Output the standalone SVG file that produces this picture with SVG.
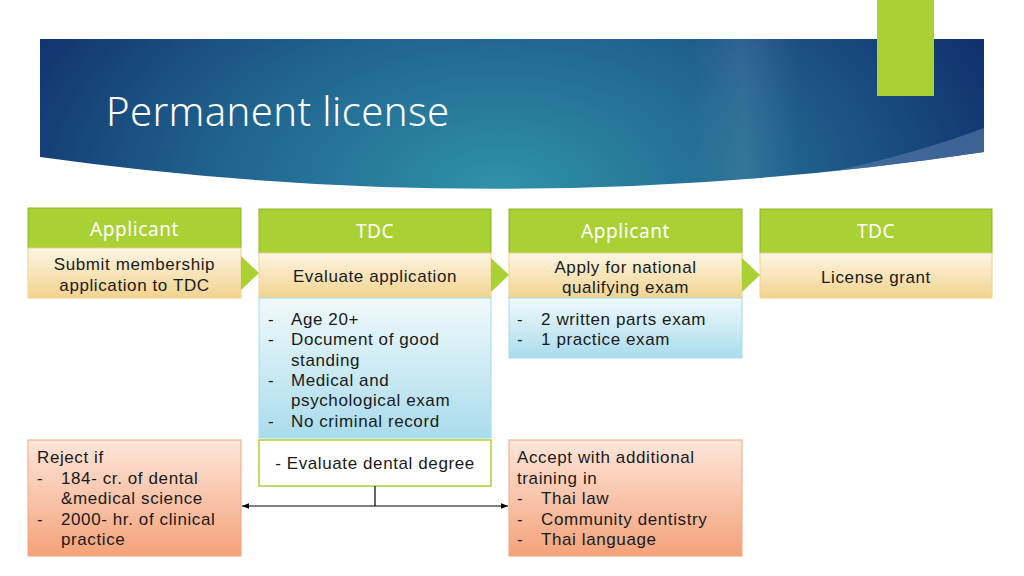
<svg xmlns="http://www.w3.org/2000/svg" width="1024" height="576" viewBox="0 0 1024 576">
<defs>
<radialGradient id="ban" cx="500" cy="190" r="560" gradientUnits="userSpaceOnUse" gradientTransform="translate(500 190) scale(1 0.6) translate(-500 -190)">
<stop offset="0" stop-color="#2f92a9"/>
<stop offset="0.55" stop-color="#1f5f8c"/>
<stop offset="1" stop-color="#0f2c6a"/>
</radialGradient>
<linearGradient id="hl" x1="690" y1="0" x2="800" y2="0" gradientUnits="userSpaceOnUse">
<stop offset="0" stop-color="#ffffff" stop-opacity="0"/>
<stop offset="0.5" stop-color="#ffffff" stop-opacity="0.08"/>
<stop offset="1" stop-color="#ffffff" stop-opacity="0"/>
</linearGradient>
<clipPath id="banclip">
<path d="M40,39 H984 V152 Q512,223 40,157 Z"/>
</clipPath>
<linearGradient id="tan" x1="0" y1="0" x2="0" y2="1">
<stop offset="0" stop-color="#fdf5e4"/>
<stop offset="1" stop-color="#f1d38e"/>
</linearGradient>
<linearGradient id="blue" x1="0" y1="0" x2="0" y2="1">
<stop offset="0" stop-color="#f0f9fc"/>
<stop offset="1" stop-color="#a9dcec"/>
</linearGradient>
<linearGradient id="org" x1="0" y1="0" x2="0" y2="1">
<stop offset="0" stop-color="#fde6da"/>
<stop offset="1" stop-color="#f4a279"/>
</linearGradient>
<marker id="ah" viewBox="0 0 10 10" refX="10" refY="5" markerWidth="7" markerHeight="7" orient="auto-start-reverse" markerUnits="userSpaceOnUse">
<path d="M0,1 L10,5 L0,9 z" fill="#000"/>
</marker>
</defs>
<style>
.hd{fill:#a9d134;stroke:#8fb52a;stroke-width:1}
.hdt{fill:#ffffff;font-family:"Noto Sans","Liberation Sans",sans-serif;font-size:19px;letter-spacing:0.6px;text-anchor:middle}
.bd{fill:url(#tan);stroke:#f0d38a;stroke-width:1}
.bl{fill:url(#blue);stroke:#a6dbeb;stroke-width:1}
.or{fill:url(#org);stroke:#f3a57f;stroke-width:1}
.t{fill:#1a1a1a;font-family:"Liberation Sans",Arial,sans-serif;font-size:17px;letter-spacing:0.6px}
.c{text-anchor:middle}
.tri{fill:#a9d134}
.cn{stroke:#000;stroke-width:1.2;fill:none}
</style>
<rect width="1024" height="576" fill="#ffffff"/>
<g id="banner">
<path d="M40,39 H984 V152 Q512,223 40,157 Z" fill="url(#ban)"/>
<rect x="690" y="39" width="110" height="160" fill="url(#hl)" clip-path="url(#banclip)"/>
<path d="M984,128 Q840,182 660,194 L984,194 Z" fill="#4f74a3" opacity="0.7" clip-path="url(#banclip)"/>
<rect x="877" y="0" width="57" height="96" fill="#a9d134"/>
<text x="106" y="126" fill="#ffffff" font-family="Noto Sans, Liberation Sans, sans-serif" font-size="40" font-weight="300" letter-spacing="0.4">Permanent license</text>
</g>
<g id="col1">
<rect class="hd" x="28" y="208" width="213" height="40"/>
<text class="hdt" x="134.5" y="236">Applicant</text>
<rect class="bd" x="28" y="248" width="213" height="50"/>
<text class="t c" x="134.5" y="270">Submit membership</text>
<text class="t c" x="134.5" y="291">application to TDC</text>
</g>
<g id="col2">
<rect class="hd" x="259" y="209" width="232" height="44"/>
<text class="hdt" x="375" y="238">TDC</text>
<rect class="bd" x="259" y="253" width="232" height="45"/>
<text class="t c" x="375" y="282">Evaluate application</text>
</g>
<g id="req">
<rect class="bl" x="259" y="298" width="232" height="140"/>
<text class="t" x="268" y="325">-</text><text class="t" x="291" y="325">Age 20+</text>
<text class="t" x="268" y="345">-</text><text class="t" x="291" y="345">Document of good</text>
<text class="t" x="291" y="366">standing</text>
<text class="t" x="268" y="386">-</text><text class="t" x="291" y="386">Medical and</text>
<text class="t" x="291" y="406">psychological exam</text>
<text class="t" x="268" y="427">-</text><text class="t" x="291" y="427">No criminal record</text>
</g>
<g id="degree">
<rect x="259" y="440" width="232" height="46" fill="#ffffff" stroke="#a9d134" stroke-width="1.5"/>
<text class="t c" x="375" y="469">- Evaluate dental degree</text>
</g>
<g id="col3">
<rect class="hd" x="509" y="209" width="233" height="44"/>
<text class="hdt" x="625.5" y="238">Applicant</text>
<rect class="bd" x="509" y="253" width="233" height="45"/>
<text class="t c" x="625.5" y="273">Apply for national</text>
<text class="t c" x="625.5" y="293">qualifying exam</text>
</g>
<g id="exam">
<rect class="bl" x="509" y="298" width="233" height="60"/>
<text class="t" x="517" y="325">-</text><text class="t" x="541" y="325">2 written parts exam</text>
<text class="t" x="517" y="345">-</text><text class="t" x="541" y="345">1 practice exam</text>
</g>
<g id="col4">
<rect class="hd" x="760" y="209" width="232" height="44"/>
<text class="hdt" x="876" y="238">TDC</text>
<rect class="bd" x="760" y="253" width="232" height="45"/>
<text class="t c" x="876" y="283">License grant</text>
</g>
<g id="reject">
<rect class="or" x="28" y="440" width="213" height="116"/>
<text class="t" x="37" y="463">Reject if</text>
<text class="t" x="37" y="484">-</text><text class="t" x="61" y="484">184- cr. of dental</text>
<text class="t" x="61" y="504">&amp;medical science</text>
<text class="t" x="37" y="525">-</text><text class="t" x="61" y="525">2000- hr. of clinical</text>
<text class="t" x="61" y="545">practice</text>
</g>
<g id="accept">
<rect class="or" x="509" y="440" width="233" height="116"/>
<text class="t" x="517" y="463">Accept with additional</text>
<text class="t" x="517" y="484">training in</text>
<text class="t" x="517" y="504">-</text><text class="t" x="541" y="504">Thai law</text>
<text class="t" x="517" y="525">-</text><text class="t" x="541" y="525">Community dentistry</text>
<text class="t" x="517" y="545">-</text><text class="t" x="541" y="545">Thai language</text>
</g>
<g id="connectors">
<path class="tri" d="M241,256 L259,273 L241,290 Z"/>
<path class="tri" d="M491,258 L509,275 L491,292 Z"/>
<path class="tri" d="M742,258 L760,275 L742,292 Z"/>
<path class="cn" d="M375,486 V506"/>
<path class="cn" d="M242,506 H508" marker-start="url(#ah)" marker-end="url(#ah)"/>
</g>
</svg>
